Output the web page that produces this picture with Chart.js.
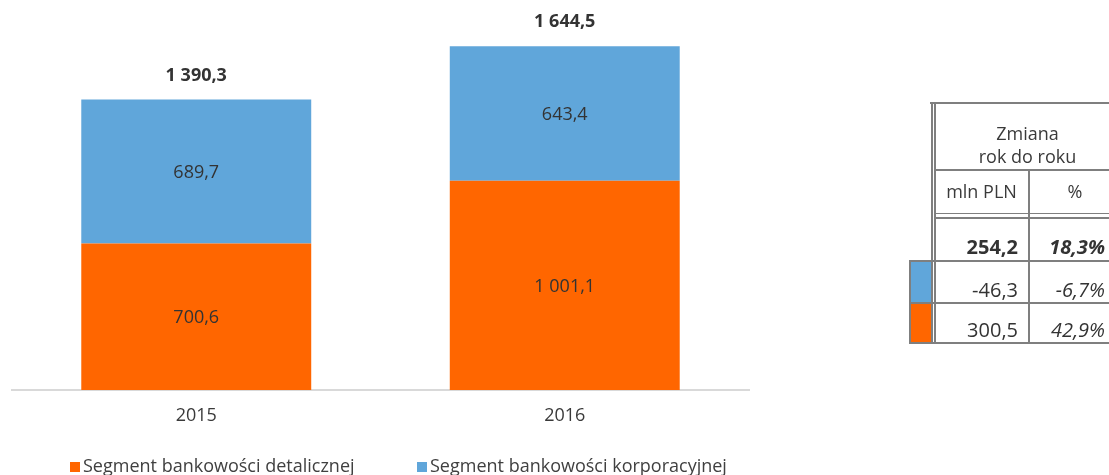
<!DOCTYPE html>
<html lang="pl">
<head>
<meta charset="utf-8">
<title>Segmenty</title>
<script src="https://cdn.jsdelivr.net/npm/chart.js@4/dist/chart.umd.min.js"></script>
<style>
  html, body { margin: 0; padding: 0; background: #fff; }
  #wrap { position: relative; width: 1109px; height: 475px; overflow: hidden; font-family: 'Open Sans', sans-serif; color: #3a3a3a; }
  #chart { position: absolute; left: 0; top: 0; }
  .ln { position: absolute; background: #7f7f7f; }
  .t { position: absolute; line-height: 1; white-space: nowrap; }
  .sq { position: absolute; }
  .lg { position: absolute; font-size: 18px; line-height: 1; white-space: nowrap; color: #404040; }
  .lgbox { position: absolute; width: 10px; height: 10px; }
</style>
</head>
<body>
<div id="wrap">
  <canvas id="chart" width="1109" height="475"></canvas>
  <div id="table"></div>
  <div id="legend"></div>
</div>
<script>
// Years on the category axis
const years = ['2015', '2016'];
// Segment results, mln PLN
const retail = [700.6, 1001.1];
const corporate = [689.7, 643.4];
// Segment names
const segmentNames = ['Segment bankowości detalicznej', 'Segment bankowości korporacyjnej'];
const segmentColors = ['#FF6600', '#60A6DA'];
// Year-on-year change: total, corporate, retail
const changeAbs = [254.2, -46.3, 300.5];
const changePct = [18.3, -6.7, 42.9];

function fmt(v) {
  const neg = v < 0;
  const s = Math.abs(v).toFixed(1).split('.');
  const int = s[0].replace(/\B(?=(\d{3})+(?!\d))/g, ' ');
  return (neg ? '-' : '') + int + ',' + s[1];
}

Chart.defaults.font.family = "'Open Sans', sans-serif";
Chart.defaults.color = '#3a3a3a';

// Value inside each segment and the stack total above each bar
const barLabels = {
  id: 'barLabels',
  afterDatasetsDraw(chart) {
    const ctx = chart.ctx;
    ctx.save();
    ctx.textAlign = 'center';
    ctx.textBaseline = 'middle';
    ctx.fillStyle = '#333333';
    chart.data.datasets.forEach((ds, di) => {
      const meta = chart.getDatasetMeta(di);
      meta.data.forEach((bar, i) => {
        ctx.font = "18px 'Open Sans', sans-serif";
        ctx.fillText(fmt(ds.data[i]), bar.x, (bar.y + bar.base) / 2 + 1);
      });
    });
    const last = chart.getDatasetMeta(chart.data.datasets.length - 1);
    last.data.forEach((bar, i) => {
      const total = chart.data.datasets.reduce((s, ds) => s + ds.data[i], 0);
      ctx.font = "bold 18px 'Open Sans', sans-serif";
      ctx.fillText(fmt(total), bar.x, bar.y - 24);
    });
    ctx.restore();
  }
};

new Chart(document.getElementById('chart'), {
  type: 'bar',
  data: {
    labels: years,
    datasets: [
      { label: segmentNames[0], data: retail, backgroundColor: segmentColors[0], borderWidth: 0 },
      { label: segmentNames[1], data: corporate, backgroundColor: segmentColors[1], borderWidth: 0 }
    ]
  },
  options: {
    responsive: false,
    animation: false,
    events: [],
    layout: { padding: { left: 12, right: 360, top: 0, bottom: 0 } },
    datasets: { bar: { categoryPercentage: 1, barPercentage: 0.624 } },
    plugins: { legend: { display: false }, tooltip: { enabled: false }, title: { display: false } },
    scales: {
      x: {
        stacked: true,
        grid: { display: false, drawTicks: false },
        border: { display: true, color: '#d9d9d9', width: 2 },
        ticks: { padding: 15, font: { size: 18 }, color: '#3a3a3a' },
        afterFit(scale) { scale.height = 85; }
      },
      y: {
        stacked: true,
        display: false,
        min: 0,
        max: 1866
      }
    }
  },
  plugins: [barLabels]
});

// Change table
const tbl = document.getElementById('table');
function line(x, y, w, h) {
  const d = document.createElement('div');
  d.className = 'ln';
  Object.assign(d.style, { left: x + 'px', top: y + 'px', width: w + 'px', height: h + 'px' });
  tbl.appendChild(d);
}
function text(str, opts) {
  const d = document.createElement('div');
  d.className = 't';
  d.textContent = str;
  Object.assign(d.style, opts);
  tbl.appendChild(d);
}
const R = 1120;
line(930, 102, R - 930, 2);          // top edge
line(931, 102, 1.5, 242);            // double left edge
line(933.5, 102, 2, 242);
line(934, 169, R - 934, 2);          // under header
line(1028, 169, 2, 175);             // column divider
line(934, 212.5, R - 934, 1.5);      // double rule under units
line(934, 216.5, R - 934, 2);
line(909, 260, R - 909, 2);          // row rules
line(909, 302, R - 909, 2);
line(909, 342, R - 909, 2);
line(909, 260, 2, 84);               // left edge of colour keys

const keyB = document.createElement('div');
keyB.className = 'sq';
Object.assign(keyB.style, { left: '911px', top: '262px', width: '20px', height: '40px', background: segmentColors[1] });
tbl.appendChild(keyB);
const keyO = document.createElement('div');
keyO.className = 'sq';
Object.assign(keyO.style, { left: '911px', top: '304px', width: '20px', height: '38px', background: segmentColors[0] });
tbl.appendChild(keyO);

text('Zmiana', { left: '935px', width: (R - 935) + 'px', textAlign: 'center', top: '124px', fontSize: '18px' });
text('rok do roku', { left: '935px', width: (R - 935) + 'px', textAlign: 'center', top: '147px', fontSize: '18px' });
text('mln PLN', { left: '935px', width: '93px', textAlign: 'center', top: '182px', fontSize: '18px' });
text('%', { left: '1030px', width: (R - 1030) + 'px', textAlign: 'center', top: '182px', fontSize: '18px' });

const rowTops = [237, 280, 319.5];
changeAbs.forEach((v, i) => {
  text(fmt(v), { right: (1109 - 1018) + 'px', top: rowTops[i] + 'px', fontSize: '20px', fontWeight: i === 0 ? '700' : '400', color: '#333' });
});
changePct.forEach((v, i) => {
  text(fmt(v) + '%', { right: '4px', top: rowTops[i] + 'px', fontSize: '20px', fontStyle: 'italic', fontWeight: i === 0 ? '700' : '400', color: '#333' });
});

// Legend below the chart
const lg = document.getElementById('legend');
const lgPos = [70, 417];
[0, 1].forEach(i => {
  const b = document.createElement('div');
  b.className = 'lgbox';
  Object.assign(b.style, { left: lgPos[i] + 'px', top: '462px', background: segmentColors[i] });
  lg.appendChild(b);
  const t = document.createElement('div');
  t.className = 'lg';
  t.textContent = segmentNames[i];
  Object.assign(t.style, { left: (lgPos[i] + 13) + 'px', top: '456px' });
  lg.appendChild(t);
});
</script>
</body>
</html>
